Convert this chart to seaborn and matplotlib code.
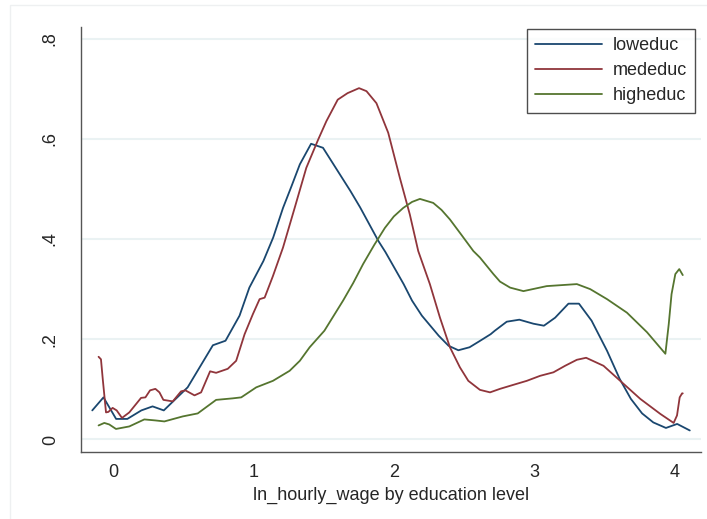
import numpy as np
import pandas as pd
import seaborn as sns
import matplotlib
matplotlib.use("Agg")
import matplotlib.pyplot as plt
from matplotlib.patches import Rectangle
from matplotlib.lines import Line2D

# ---- data ----
low_x = [-0.15, -0.07, 0.02, 0.10, 0.20, 0.28, 0.36, 0.53, 0.71, 0.80, 0.90, 0.97,
         1.07, 1.14, 1.21, 1.27, 1.33, 1.41, 1.495, 1.69, 1.76, 1.89, 1.94, 2.07,
         2.13, 2.20, 2.32, 2.39, 2.46, 2.54, 2.61, 2.69, 2.72, 2.805, 2.895, 2.995,
         3.07, 3.15, 3.245, 3.32, 3.41, 3.52, 3.61, 3.69, 3.77, 3.85, 3.94, 4.02, 4.11]
low_y = [0.058, 0.084, 0.041, 0.041, 0.058, 0.066, 0.058, 0.104, 0.188, 0.197, 0.247, 0.303,
         0.356, 0.403, 0.462, 0.505, 0.549, 0.590, 0.582, 0.496, 0.463, 0.396, 0.374, 0.310,
         0.277, 0.247, 0.207, 0.187, 0.178, 0.184, 0.196, 0.210, 0.217, 0.235, 0.239, 0.231,
         0.227, 0.243, 0.271, 0.271, 0.237, 0.177, 0.121, 0.081, 0.052, 0.034, 0.023, 0.031, 0.018]

med_x = [-0.105, -0.088, -0.075, -0.052, -0.035, -0.005, 0.024, 0.062, 0.114, 0.198, 0.229,
         0.262, 0.30, 0.329, 0.357, 0.424, 0.483, 0.514, 0.579, 0.626, 0.69, 0.733, 0.816,
         0.876, 0.936, 0.995, 1.043, 1.079, 1.138, 1.21, 1.293, 1.376, 1.46, 1.519, 1.60,
         1.67, 1.752, 1.805, 1.876, 1.96, 2.043, 2.114, 2.174, 2.257, 2.329, 2.40, 2.471,
         2.531, 2.614, 2.686, 2.757, 2.852, 2.948, 3.043, 3.138, 3.221, 3.305, 3.371, 3.495,
         3.614, 3.757, 3.90, 3.995, 4.019, 4.038, 4.055, 4.06]
med_y = [0.165, 0.160, 0.120, 0.054, 0.055, 0.063, 0.058, 0.043, 0.054, 0.083, 0.084,
         0.098, 0.101, 0.094, 0.079, 0.076, 0.096, 0.098, 0.088, 0.094, 0.136, 0.133, 0.141,
         0.157, 0.210, 0.250, 0.280, 0.283, 0.326, 0.383, 0.462, 0.542, 0.598, 0.635, 0.678,
         0.691, 0.701, 0.695, 0.671, 0.612, 0.522, 0.449, 0.376, 0.310, 0.243, 0.184, 0.144,
         0.117, 0.099, 0.094, 0.101, 0.109, 0.117, 0.127, 0.134, 0.147, 0.159, 0.163, 0.147,
         0.117, 0.081, 0.051, 0.033, 0.048, 0.084, 0.092, 0.092]

high_x = [-0.105, -0.064, -0.029, 0.019, 0.114, 0.221, 0.30, 0.364, 0.495, 0.602, 0.733,
          0.85, 0.912, 1.019, 1.138, 1.257, 1.33, 1.40, 1.505, 1.638, 1.71, 1.781, 1.86,
          1.936, 2.0, 2.067, 2.13, 2.186, 2.281, 2.34, 2.40, 2.48, 2.567, 2.614, 2.71,
          2.757, 2.829, 2.924, 3.09, 3.305, 3.40, 3.52, 3.662, 3.805, 3.936, 3.96, 3.98,
          4.007, 4.035, 4.06]
high_y = [0.028, 0.033, 0.030, 0.021, 0.026, 0.040, 0.038, 0.036, 0.046, 0.052, 0.079,
          0.082, 0.084, 0.104, 0.117, 0.137, 0.157, 0.184, 0.217, 0.277, 0.312, 0.350, 0.388,
          0.422, 0.445, 0.462, 0.474, 0.480, 0.472, 0.458, 0.439, 0.409, 0.376, 0.363, 0.330,
          0.315, 0.303, 0.296, 0.306, 0.310, 0.300, 0.280, 0.253, 0.214, 0.171, 0.230, 0.290,
          0.330, 0.340, 0.328]

groups = ["loweduc", "mededuc", "higheduc"]
colors = ["#1a476f", "#90353b", "#55752f"]
x_ticks = [0, 1, 2, 3, 4]
y_ticks = [0, 0.2, 0.4, 0.6, 0.8]
y_tick_labels = ["0", ".2", ".4", ".6", ".8"]
x_title = "ln_hourly_wage by education level"

frames = []
for g, xs, ys in zip(groups, [low_x, med_x, high_x], [low_y, med_y, high_y]):
    frames.append(pd.DataFrame({"x": xs, "y": ys, "group": g}))
df = pd.concat(frames, ignore_index=True)

sns.set_style("white")
plt.rcParams["font.family"] = ["Liberation Sans", "DejaVu Sans"]

fig = plt.figure(figsize=(7.07, 5.19), dpi=100)
ax = fig.add_axes([81/707, 1-451.5/519, (701-81)/707, (451.5-27)/519])

# outer graph-region border
fig.patches.append(Rectangle((10/707, -0.1), 1.2, 0.1 + 1 - 5/519,
                             transform=fig.transFigure, fill=False,
                             edgecolor="#eef0f1", lw=1.0))

for yt in y_ticks:
    ax.axhline(yt, color="#eaf2f3", lw=1.5, zorder=0)

sns.lineplot(data=df, x="x", y="y", hue="group", hue_order=groups,
             palette=colors, estimator=None, sort=False, units="group",
             lw=1.3, ax=ax, legend=False)

ax.set_xlim(-0.2303, 4.190)
ax.set_ylim(-0.024, 0.823)
ax.set_xticks(x_ticks)
ax.set_xticklabels([str(t) for t in x_ticks])
ax.set_yticks(y_ticks)
ax.set_yticklabels(y_tick_labels, rotation=90, va="center")
ax.tick_params(axis="both", labelsize=13, length=5, width=1, color="#555555",
               direction="out")
ax.tick_params(axis="y", pad=11)
ax.tick_params(axis="x", pad=4)
ax.set_xlabel(x_title, fontsize=13, labelpad=4)
ax.set_ylabel("")

for s in ["top", "right"]:
    ax.spines[s].set_visible(False)
for s in ["left", "bottom"]:
    ax.spines[s].set_color("#555555")
    ax.spines[s].set_linewidth(1.0)

handles = [Line2D([0], [0], color=c, lw=1.3) for c in colors]
leg = ax.legend(handles, groups, loc="upper right",
                bbox_to_anchor=(695/707, 1-29/519), bbox_transform=fig.transFigure,
                borderaxespad=0, fontsize=13, frameon=True, fancybox=False,
                handlelength=3.7, handletextpad=0.6, labelspacing=0.45,
                borderpad=0.45)
leg.get_frame().set_edgecolor("#222222")
leg.get_frame().set_linewidth(1.0)

fig.savefig("out.png", dpi=100)
